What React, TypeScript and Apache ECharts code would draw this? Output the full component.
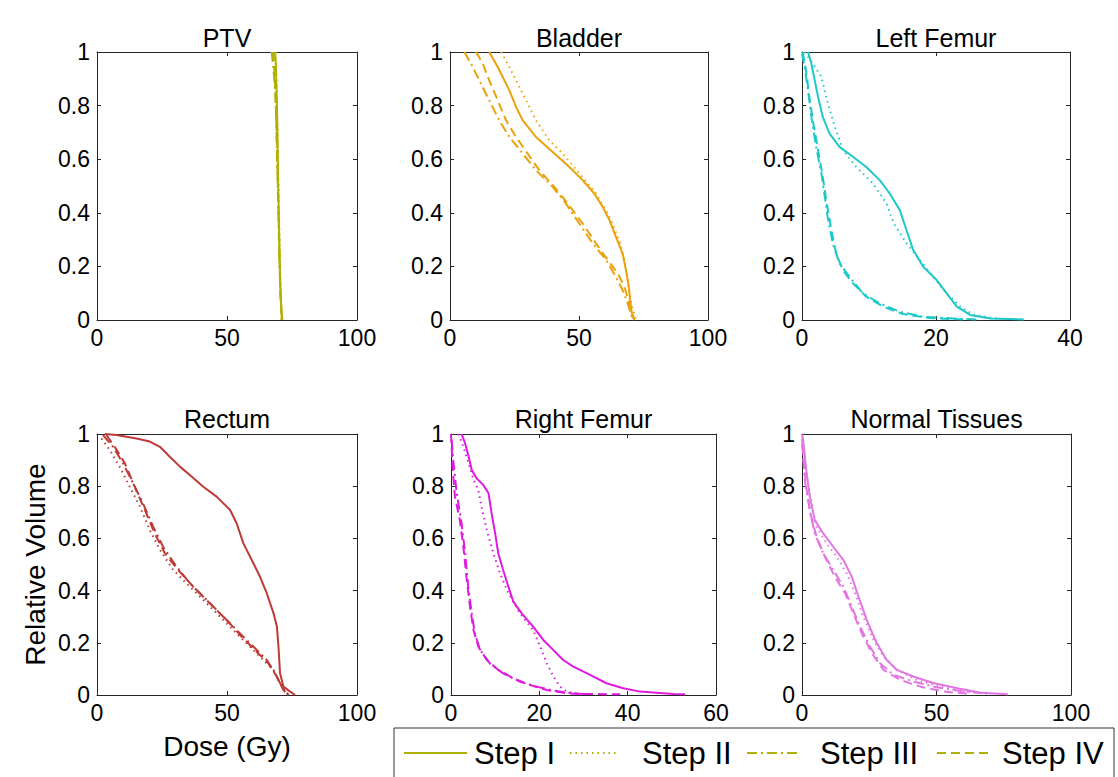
import React, { useEffect, useRef } from 'react';
import * as echarts from 'echarts';

const FONT = '"Liberation Sans", Arial, Helvetica, sans-serif';

const organs = ['PTV', 'Bladder', 'Left Femur', 'Rectum', 'Right Femur', 'Normal Tissues'];
const stepNames = ['Step I', 'Step II', 'Step III', 'Step IV'];
const xMaxes = [100, 100, 40, 100, 60, 100];
const xIntervals = [50, 50, 20, 50, 20, 50];
const organColors = ['#B0B000', '#EBA20A', '#1EC8C8', '#BE3A36', '#E01BE0', '#E276E2'];

// [dose (Gy), relative volume]
const ptvStep1 = [[68.5, 1], [68.8, 0.95], [69.1, 0.85], [69.4, 0.7], [69.6, 0.55], [69.9, 0.4], [70.2, 0.25], [70.6, 0.1], [71.0, 0.03], [71.3, 0]];
const ptvStep2 = [[68.7, 1], [69.0, 0.9], [69.3, 0.75], [69.6, 0.6], [69.9, 0.45], [70.2, 0.3], [70.5, 0.15], [70.9, 0.05], [71.3, 0]];
const ptvStep3 = [[67.2, 1], [67.6, 0.96], [68.0, 0.92], [68.6, 0.85], [69.0, 0.72], [69.4, 0.55], [69.8, 0.38], [70.2, 0.2], [70.7, 0.06], [71.1, 0]];
const ptvStep4 = [[67.8, 1], [68.3, 0.92], [68.8, 0.8], [69.3, 0.62], [69.7, 0.45], [70.1, 0.28], [70.5, 0.12], [71.0, 0]];

const bladderStep1 = [[15.2, 1], [18.5, 0.944], [19.8, 0.919], [23, 0.857], [25.6, 0.795], [28.2, 0.745], [33.3, 0.683], [39.8, 0.627], [46.3, 0.571], [51.4, 0.522], [55.9, 0.472], [59.2, 0.422], [61.8, 0.373], [64.3, 0.311], [66.9, 0.248], [68.2, 0.186], [69.3, 0.124], [69.8, 0.075], [70.5, 0.025], [71.4, 0]];
const bladderStep2 = [[19.8, 1], [23, 0.944], [25.6, 0.894], [29.5, 0.82], [33.3, 0.745], [38.5, 0.67], [43.7, 0.621], [50.1, 0.547], [56.6, 0.472], [61.8, 0.385], [65.6, 0.298], [67.6, 0.224], [68.9, 0.149], [70.2, 0.062], [72.1, 0]];
const bladderStep3 = [[5.6, 1], [8.8, 0.944], [12, 0.882], [15.2, 0.82], [19.1, 0.745], [23, 0.683], [28.2, 0.621], [33.3, 0.559], [39.8, 0.497], [44.9, 0.435], [50.1, 0.36], [55.3, 0.286], [60.5, 0.224], [64.3, 0.161], [66.9, 0.112], [68.9, 0.062], [70.8, 0]];
const bladderStep4 = [[10.1, 1], [12.7, 0.957], [15.2, 0.894], [18.5, 0.82], [21.7, 0.745], [25.6, 0.683], [30.1, 0.621], [34.6, 0.559], [40.4, 0.497], [45.6, 0.435], [51.4, 0.36], [56.6, 0.286], [61.1, 0.224], [65, 0.174], [67.6, 0.124], [69.5, 0.062], [71.4, 0]];

const leftFemurStep1 = [[0.9, 1], [1.4, 0.957], [1.9, 0.894], [2.4, 0.832], [3.1, 0.758], [4.1, 0.696], [5.6, 0.646], [7.6, 0.609], [9.6, 0.571], [11.6, 0.522], [13.1, 0.472], [14.6, 0.41], [15.6, 0.335], [16.6, 0.261], [18.1, 0.199], [20.1, 0.149], [21.6, 0.099], [23.1, 0.05], [25.1, 0.019], [28.1, 0.006], [33.1, 0.002]];
const leftFemurStep2 = [[0.4, 1], [1.6, 0.957], [2.9, 0.907], [3.6, 0.832], [4.6, 0.745], [6.1, 0.634], [8.1, 0.571], [10.6, 0.509], [12.6, 0.435], [13.7, 0.36], [15.6, 0.286], [17.6, 0.224], [19.6, 0.161], [21.6, 0.099], [23.6, 0.05], [25.6, 0.019], [29.1, 0.005]];
const leftFemurStep3 = [[0, 0.994], [0.4, 0.944], [0.9, 0.857], [1.4, 0.758], [2.1, 0.646], [2.9, 0.547], [3.4, 0.46], [3.9, 0.373], [4.6, 0.286], [5.6, 0.211], [7.1, 0.161], [9.1, 0.099], [11.6, 0.062], [14.6, 0.031], [18.1, 0.012], [23.1, 0.005], [26.1, 0.002]];
const leftFemurStep4 = [[0.1, 1], [0.6, 0.932], [1.1, 0.832], [1.7, 0.733], [2.4, 0.634], [3.1, 0.534], [3.7, 0.435], [4.4, 0.335], [5.1, 0.248], [6.1, 0.186], [7.6, 0.137], [9.6, 0.087], [12.1, 0.05], [15.1, 0.022], [19.1, 0.007], [24.1, 0.002]];

const rectumStep1 = [[3, 1], [7.5, 0.996], [15.2, 0.983], [20.3, 0.971], [24.2, 0.951], [28, 0.913], [31.9, 0.875], [35.7, 0.843], [40.9, 0.798], [46, 0.76], [51.2, 0.709], [53.7, 0.658], [56.3, 0.581], [60.2, 0.504], [62.7, 0.453], [65.3, 0.39], [67.9, 0.313], [69.2, 0.262], [69.8, 0.185], [70.4, 0.083], [71.7, 0.032], [74.3, 0.013], [76.2, 0]];
const rectumStep2 = [[1.7, 0.983], [4.9, 0.939], [8.7, 0.875], [12.6, 0.798], [16.5, 0.722], [20.3, 0.632], [24.2, 0.556], [29.3, 0.479], [34.4, 0.428], [40.9, 0.364], [47.3, 0.3], [53.7, 0.236], [60.2, 0.172], [64, 0.134], [67.9, 0.096], [70.4, 0.045], [73, 0.006], [74.3, 0]];
const rectumStep3 = [[2.3, 0.996], [6.2, 0.951], [10, 0.888], [13.9, 0.811], [17.7, 0.734], [21.6, 0.645], [25.4, 0.568], [30.6, 0.492], [35.7, 0.428], [42.2, 0.364], [48.6, 0.3], [55, 0.236], [60.2, 0.185], [65.3, 0.134], [68.5, 0.083], [71.1, 0.032], [73.6, 0]];
const rectumStep4 = [[3.6, 0.996], [6.8, 0.951], [10.7, 0.888], [14.5, 0.798], [18.4, 0.709], [22.2, 0.619], [26.1, 0.543], [31.2, 0.479], [37, 0.415], [43.4, 0.351], [49.9, 0.287], [55.7, 0.223], [61.4, 0.166], [65.9, 0.121], [69.2, 0.07], [71.7, 0.019], [73.6, 0]];

const rightFemurStep1 = [[2.4, 1], [3.2, 0.964], [4, 0.913], [4.7, 0.862], [5.8, 0.83], [7.3, 0.805], [8.5, 0.773], [9.2, 0.696], [10, 0.619], [10.7, 0.543], [11.8, 0.479], [13, 0.415], [14.1, 0.358], [16, 0.313], [18.6, 0.262], [20.9, 0.211], [23.2, 0.172], [25.4, 0.134], [27.7, 0.109], [31.5, 0.077], [35.2, 0.045], [39, 0.026], [42.8, 0.013], [50.3, 0.004], [53, 0.003]];
const rightFemurStep2 = [[1.7, 1], [2.8, 0.951], [4, 0.888], [5.1, 0.824], [6.2, 0.785], [6.9, 0.722], [8.1, 0.632], [9.6, 0.543], [11.1, 0.466], [13, 0.39], [15.6, 0.313], [18.6, 0.249], [20.2, 0.185], [21.7, 0.121], [23.2, 0.07], [24.7, 0.032], [26.2, 0.013], [29.2, 0.004]];
const rightFemurStep3 = [[0.15, 0.977], [0.5, 0.9], [1.3, 0.773], [2.4, 0.658], [3.2, 0.543], [3.9, 0.415], [4.7, 0.313], [5.4, 0.236], [6.6, 0.172], [8.8, 0.121], [11.8, 0.083], [15.6, 0.051], [19.4, 0.032], [23.2, 0.017], [27.7, 0.006], [31.5, 0.003]];
const rightFemurStep4 = [[0, 1], [0.4, 0.862], [0.9, 0.76], [2, 0.671], [2.8, 0.568], [3.5, 0.453], [4.3, 0.338], [5.1, 0.249], [6.2, 0.185], [8.1, 0.134], [10.7, 0.096], [14.1, 0.064], [17.9, 0.038], [21.7, 0.019], [26.2, 0.006], [29.2, 0.004], [38.3, 0.003]];

const normalStep1 = [[0, 1], [0.4, 0.977], [1.6, 0.862], [2.9, 0.76], [4.7, 0.671], [7.9, 0.619], [11.6, 0.568], [15.4, 0.517], [18.5, 0.453], [21, 0.377], [24.1, 0.287], [27.8, 0.198], [31.5, 0.134], [35.3, 0.096], [41.6, 0.07], [49.1, 0.045], [57.8, 0.026], [66.5, 0.009], [76.5, 0.003]];
const normalStep2 = [[0, 1], [0.4, 0.964], [1.6, 0.849], [3.5, 0.734], [5.4, 0.645], [9.1, 0.581], [12.9, 0.53], [16.6, 0.466], [19.7, 0.39], [22.8, 0.3], [26.6, 0.211], [30.3, 0.147], [35.3, 0.096], [42.8, 0.057], [51.6, 0.032], [60.3, 0.013], [70.3, 0.004]];
const normalStep3 = [[0, 0.98], [0.3, 0.951], [1, 0.824], [2.9, 0.709], [4.7, 0.619], [7.9, 0.543], [11.6, 0.479], [15.4, 0.415], [18.5, 0.338], [21.6, 0.262], [25.3, 0.185], [29.1, 0.121], [34.1, 0.077], [41.6, 0.051], [49.1, 0.032], [57.8, 0.017], [67.8, 0.006]];
const normalStep4 = [[0, 0.96], [0.2, 0.939], [1.4, 0.811], [3.1, 0.696], [5.4, 0.607], [8.5, 0.53], [12.2, 0.453], [16, 0.39], [19.1, 0.313], [22.2, 0.236], [26, 0.16], [30.3, 0.096], [36.6, 0.057], [44.1, 0.032], [52.8, 0.013], [62.8, 0.004]];

const organSeries = [
  [ptvStep1, ptvStep2, ptvStep3, ptvStep4],
  [bladderStep1, bladderStep2, bladderStep3, bladderStep4],
  [leftFemurStep1, leftFemurStep2, leftFemurStep3, leftFemurStep4],
  [rectumStep1, rectumStep2, rectumStep3, rectumStep4],
  [rightFemurStep1, rightFemurStep2, rightFemurStep3, rightFemurStep4],
  [normalStep1, normalStep2, normalStep3, normalStep4],
];

// layout (pixels)
const panels = [
  { left: 97, top: 52, width: 260, height: 268 },
  { left: 450, top: 52, width: 258, height: 268 },
  { left: 802, top: 52, width: 268, height: 268 },
  { left: 97, top: 434, width: 260, height: 261 },
  { left: 451, top: 434, width: 265, height: 261 },
  { left: 802, top: 434, width: 269, height: 261 },
];
const dashTypes: any[] = ['solid', [1.5, 4], [10, 4, 2, 4], [9, 5]];
const AXIS_COLOR = '#262626';

function buildOption() {
  const grid: any[] = [];
  const xAxis: any[] = [];
  const yAxis: any[] = [];
  const series: any[] = [];
  const graphic: any[] = [];
  const tickStyle = { color: AXIS_COLOR, width: 1 };
  const labelStyle = { color: '#000', fontSize: 23, fontFamily: FONT };

  panels.forEach((p, i) => {
    grid.push({ ...p, containLabel: false, show: false });
    const xBase = {
      gridIndex: i, type: 'value', min: 0, max: xMaxes[i], interval: xIntervals[i],
      axisLine: { show: true, onZero: false, lineStyle: tickStyle },
      axisTick: { show: true, inside: true, length: 4, lineStyle: tickStyle },
      splitLine: { show: false },
    };
    xAxis.push({
      ...xBase, position: 'bottom',
      axisLabel: { ...labelStyle, margin: 6, showMinLabel: true, showMaxLabel: true },
      ...(i === 3 ? {
        name: 'Dose (Gy)', nameLocation: 'middle', nameGap: 37,
        nameTextStyle: { color: '#000', fontSize: 28, fontFamily: FONT },
      } : {}),
    });
    xAxis.push({ ...xBase, position: 'top', axisLabel: { show: false } });
    const yBase = {
      gridIndex: i, type: 'value', min: 0, max: 1, interval: 0.2,
      axisLine: { show: true, onZero: false, lineStyle: tickStyle },
      axisTick: { show: true, inside: true, length: 4, lineStyle: tickStyle },
      splitLine: { show: false },
    };
    yAxis.push({
      ...yBase, position: 'left',
      axisLabel: { ...labelStyle, margin: 7, showMinLabel: true, showMaxLabel: true },
      ...(i === 3 ? {
        name: 'Relative Volume', nameLocation: 'middle', nameGap: 48, nameRotate: 90,
        nameTextStyle: { color: '#000', fontSize: 28, fontFamily: FONT },
      } : {}),
    });
    yAxis.push({ ...yBase, position: 'right', axisLabel: { show: false } });

    organSeries[i].forEach((data, j) => {
      series.push({
        type: 'line',
        name: stepNames[j],
        xAxisIndex: 2 * i,
        yAxisIndex: 2 * i,
        data,
        symbol: 'none',
        showSymbol: false,
        silent: true,
        clip: true,
        z: 10 - j,
        lineStyle: { color: organColors[i], width: 2, type: dashTypes[j] },
        itemStyle: { color: organColors[i] },
      });
    });

    graphic.push({
      type: 'text',
      x: p.left + p.width / 2,
      y: i < 3 ? 38 : 419,
      style: {
        text: organs[i], fill: '#000', fontSize: 25, fontFamily: FONT,
        align: 'center', verticalAlign: 'middle',
      },
    });
  });

  // legend box (manual, MATLAB style)
  const legendLines = [[404, 467], [570, 619], [747, 801], [937, 993]];
  const legendTextX = [474, 642, 820, 1002];
  const legendY = 753;
  graphic.push({
    type: 'rect',
    shape: { x: 394, y: 728, width: 720, height: 60 },
    style: { fill: '#fff', stroke: '#333', lineWidth: 1 },
    z: 50,
  });
  stepNames.forEach((name, j) => {
    graphic.push({
      type: 'line',
      shape: { x1: legendLines[j][0], y1: legendY, x2: legendLines[j][1], y2: legendY },
      style: {
        stroke: organColors[0], lineWidth: 2,
        lineDash: dashTypes[j] === 'solid' ? null : dashTypes[j],
      },
      z: 51,
    });
    graphic.push({
      type: 'text',
      x: legendTextX[j],
      y: legendY,
      style: {
        text: name, fill: '#000', fontSize: 31, fontFamily: FONT,
        align: 'left', verticalAlign: 'middle',
      },
      z: 51,
    });
  });

  return {
    animation: false,
    backgroundColor: '#fff',
    grid, xAxis, yAxis, series, graphic,
  };
}

export default function App() {
  const ref = useRef<HTMLDivElement>(null);
  useEffect(() => {
    const chart = echarts.init(ref.current as HTMLDivElement, null, { renderer: 'svg' });
    chart.setOption(buildOption() as any);
    return () => chart.dispose();
  }, []);
  return (
    <div
      ref={ref}
      style={{ position: 'fixed', left: 0, top: 0, width: 1118, height: 777, background: '#fff' }}
    />
  );
}
